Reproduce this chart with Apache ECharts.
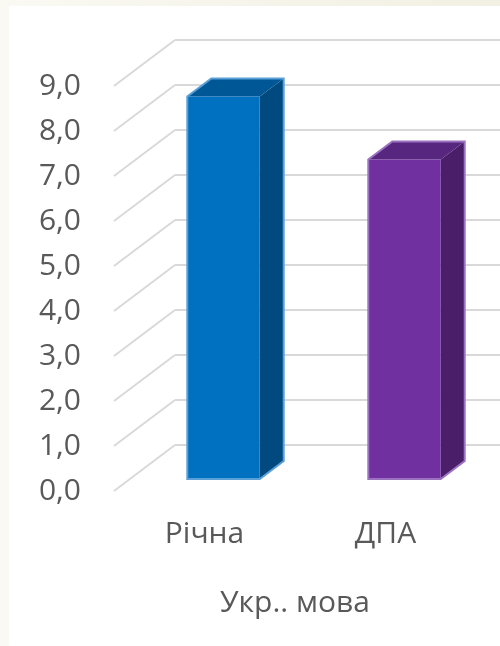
<!DOCTYPE html>
<html>
<head>
<meta charset="utf-8">
<script src="https://cdn.jsdelivr.net/npm/echarts@6/dist/echarts.min.js"></script>
<style>
  html, body { margin: 0; padding: 0; }
  body {
    width: 500px; height: 646px; position: relative; overflow: hidden;
    background: linear-gradient(90deg, #faf9f3, #f2f0e2);
  }
  #panel { position: absolute; left: 9px; top: 6px; right: 0; bottom: 0; background: #fff; }
  #chart { position: absolute; left: 0; top: 0; width: 500px; height: 646px; }
</style>
</head>
<body>
<div id="panel"></div>
<div id="chart"></div>
<script>
// дані
var categories = ["Річна", "ДПА"];
var values = [8.5, 7.1];
var tickValues = [0, 1, 2, 3, 4, 5, 6, 7, 8, 9];
var axisTitle = "Укр.. мова";

// кольори граней: фронт, верх, бік, контур
var barColors = [
  { front: "#0070c0", top: "#005796", side: "#004a80", edge: "#5a9fd6" },
  { front: "#7030a0", top: "#57267f", side: "#4a1e69", edge: "#9b72c0" }
];

var WALL = [61, -46]; // глибина бічної стінки
var FACE_SHIFT = [19, -12]; // зсув передньої грані стовпця
var BAR_DEPTH = [24, -18]; // глибина стовпця

(function () {
  var myChart = echarts.init(document.querySelector("#chart"));
  var labelFont = { color: "#595959", fontFamily: "Open Sans", fontSize: 30 };

  var option = {
    animation: false,
    grid: [
      // передня площина
      { left: 114, right: 24, top: 86, bottom: 155 },
      // задня стінка
      { left: 175, right: 0, top: 40, bottom: 201 }
    ],
    xAxis: [
      {
        gridIndex: 0,
        type: "category",
        data: categories,
        axisLine: { show: false },
        axisTick: { show: false },
        axisLabel: Object.assign({ margin: 28 }, labelFont),
        name: axisTitle,
        nameLocation: "middle",
        nameGap: 97,
        nameTextStyle: labelFont
      },
      { gridIndex: 1, type: "value", show: false }
    ],
    yAxis: [
      {
        gridIndex: 0,
        type: "value",
        min: 0,
        max: 9,
        interval: 1,
        axisLine: { show: false },
        axisTick: { show: false },
        splitLine: { show: false },
        axisLabel: Object.assign({
          margin: 33,
          formatter: function (v) { return v.toFixed(1).replace(".", ","); }
        }, labelFont)
      },
      {
        gridIndex: 1,
        type: "value",
        min: 0,
        max: 9,
        interval: 1,
        axisLine: { show: false },
        axisTick: { show: false },
        axisLabel: { show: false },
        splitLine: { lineStyle: { color: "#d9d9d9", width: 2 } }
      }
    ],
    series: [
      // діагональні лінії бічної стінки
      {
        type: "custom",
        xAxisIndex: 0,
        yAxisIndex: 0,
        silent: true,
        data: tickValues.map(function (v) { return [0, v]; }),
        encode: { x: 0, y: 1 },
        renderItem: function (params, api) {
          var y = api.coord([0, api.value(1)])[1];
          var x = params.coordSys.x;
          return {
            type: "line",
            shape: { x1: x, y1: y, x2: x + WALL[0], y2: y + WALL[1] },
            style: { stroke: "#d9d9d9", lineWidth: 2 }
          };
        }
      },
      // 3D стовпці
      {
        type: "custom",
        xAxisIndex: 0,
        yAxisIndex: 0,
        data: values.map(function (v, i) { return [i, v]; }),
        encode: { x: 0, y: 1 },
        renderItem: function (params, api) {
          var i = api.value(0);
          var base = api.coord([i, 0]);
          var top = api.coord([i, api.value(1)]);
          var w = api.size([1, 0])[0] * 0.4;
          var x0 = base[0] + FACE_SHIFT[0] - w / 2;
          var x1 = x0 + w;
          var yb = base[1] + FACE_SHIFT[1];
          var yt = top[1] + FACE_SHIFT[1];
          var dx = BAR_DEPTH[0], dy = BAR_DEPTH[1];
          var c = barColors[i];
          return {
            type: "group",
            children: [
              {
                type: "polygon",
                shape: { points: [[x0, yt], [x0 + dx, yt + dy], [x1 + dx, yt + dy], [x1, yt]] },
                style: { fill: c.top }
              },
              {
                type: "polygon",
                shape: { points: [[x1, yt], [x1 + dx, yt + dy], [x1 + dx, yb + dy], [x1, yb]] },
                style: { fill: c.side }
              },
              {
                type: "rect",
                shape: { x: x0, y: yt, width: w, height: yb - yt },
                style: { fill: c.front }
              },
              {
                type: "polygon",
                shape: {
                  points: [[x0, yb], [x0, yt], [x0 + dx, yt + dy], [x1 + dx, yt + dy],
                    [x1 + dx, yb + dy], [x1, yb]]
                },
                style: { fill: "none", stroke: c.edge, lineWidth: 2 }
              }
            ]
          };
        }
      }
    ]
  };
  myChart.setOption(option);
})();
</script>
</body>
</html>
